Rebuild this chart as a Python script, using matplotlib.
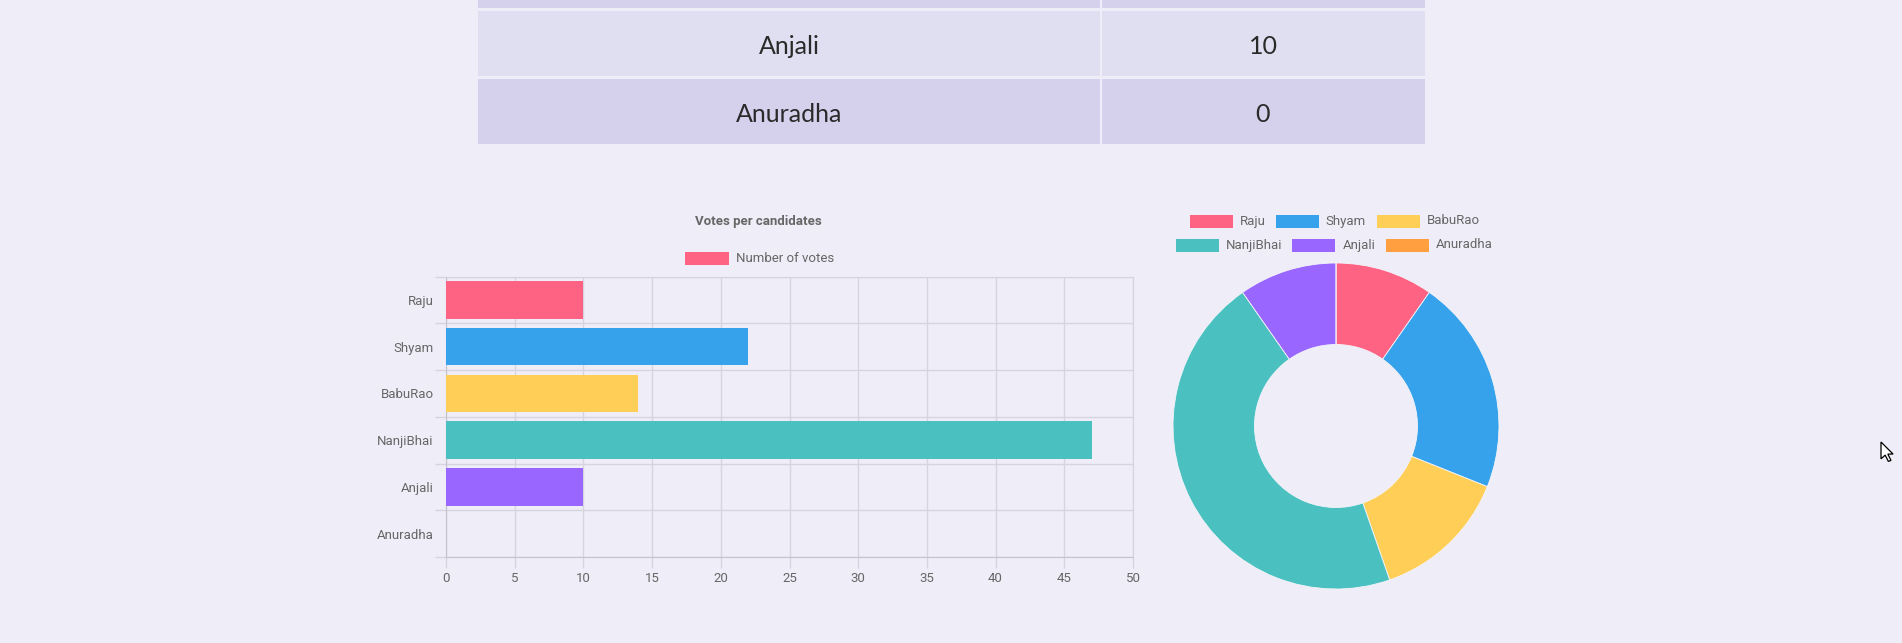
import matplotlib
matplotlib.use("Agg")
import matplotlib.pyplot as plt
from matplotlib.patches import Rectangle, Polygon
import matplotlib.font_manager as fm
from matplotlib.textpath import TextPath
import numpy as np

# ---------------- data ----------------
candidates = ["Raju", "Shyam", "BabuRao", "NanjiBhai", "Anjali", "Anuradha"]
votes = [10, 22, 14, 47, 10, 0]
colors = ["#ff6384", "#36a2eb", "#ffce56", "#4bc0c0", "#9966ff", "#ff9f40"]
table_names = ["NanjiBhai", "Anjali", "Anuradha"]
table_votes = [47, 10, 0]
x_ticks = list(range(0, 55, 5))
chart_title = "Votes per candidates"
dataset_label = "Number of votes"

W, H = 1902, 643
BG = "#efeef8"
GRID = "#d6d5df"
TXT = "#666666"
FONT = ["Roboto", "DejaVu Sans"]
FS = 9.5

fig = plt.figure(figsize=(W / 100, H / 100), dpi=100, facecolor=BG)

# overlay axes in pixel coordinates for page layout elements
bg = fig.add_axes([0, 0, 1, 1], zorder=0)
bg.set_xlim(0, W)
bg.set_ylim(H, 0)
bg.axis("off")
bg.patch.set_alpha(0)

# ---------------- table (partially scrolled off) ----------------
t_left, t_mid, t_right = 478, 1101, 1425
row_tops = [-57, 11, 79]
row_h = 65
row_cols = ["#d5d1ec", "#e0dff1", "#d5d1ec"]
for top, name, v, rc in zip(row_tops, table_names, table_votes, row_cols):
    bg.add_patch(Rectangle((t_left, top), t_mid - t_left - 1, row_h, facecolor=rc, edgecolor="none"))
    bg.add_patch(Rectangle((t_mid + 1, top), t_right - t_mid - 1, row_h, facecolor=rc, edgecolor="none"))
    cy = top + row_h / 2 + 2.5
    if cy < 0:
        continue  # row text scrolled off the page
    bg.text((t_left + t_mid) / 2, cy, name, ha="center", va="center", fontsize=18,
            family=["Lato", "DejaVu Sans"], color="#2a2a2a")
    bg.text((t_mid + t_right) / 2, cy, str(v), ha="center", va="center", fontsize=18,
            family=["Lato", "DejaVu Sans"], color="#2a2a2a")

# ---------------- bar chart ----------------
ax = fig.add_axes([446 / W, 1 - 557 / H, (1133 - 446) / W, (557 - 276.5) / H], zorder=1)
ax.set_facecolor("none")
ypos = np.arange(len(candidates))
ax.barh(ypos, votes, height=0.8, color=colors, zorder=3)
ax.set_xlim(0, 50)
ax.set_ylim(len(candidates) - 0.5, -0.5)
ax.set_xticks(x_ticks)
ax.set_xticklabels([str(t) for t in x_ticks], fontsize=FS, color=TXT, family=FONT)
ax.set_yticks(ypos)
ax.set_yticklabels(candidates, fontsize=FS, color=TXT, family=FONT)
ax.set_yticks(np.arange(-0.5, len(candidates)), minor=True)
ax.tick_params(axis="y", which="major", length=0, pad=9)
ax.tick_params(axis="y", which="minor", length=8, color=GRID, width=1)
ax.tick_params(axis="x", which="major", length=8, color=GRID, width=1, pad=3)
ax.grid(axis="x", which="major", color=GRID, linewidth=1, zorder=0)
ax.grid(axis="y", which="minor", color=GRID, linewidth=1, zorder=0)
ax.grid(axis="y", which="major", visible=False)
for s in ["top", "right"]:
    ax.spines[s].set_color(GRID)
for s in ["left", "bottom"]:
    ax.spines[s].set_color("#c4c3cc")

bg.text(758, 222, chart_title, ha="center", va="center", fontsize=FS, fontweight="bold",
        color=TXT, family=FONT)
bg.add_patch(Rectangle((685, 252), 44, 13, facecolor=colors[0], edgecolor="none"))
bg.text(736, 259, dataset_label, ha="left", va="center", fontsize=FS, color=TXT, family=FONT)

# ---------------- doughnut ----------------
cx, cy, r = 1336, 426, 163
axp = fig.add_axes([(cx - r) / W, 1 - (cy + r) / H, 2 * r / W, 2 * r / H], zorder=1)
axp.pie(votes, colors=colors, startangle=90, counterclock=False, radius=1,
        wedgeprops=dict(width=0.5, edgecolor="#f4f4fa", linewidth=0.6))
axp.set_xlim(-1, 1)
axp.set_ylim(-1, 1)
axp.set_aspect("auto")
axp.axis("off")

# legend rows (centered like Chart.js)
leg_rows = [[0, 1, 2], [3, 4, 5]]
leg_y = [221, 245]
box_w, box_h, gap_t, gap_item = 43, 13, 7, 12
fp = fm.FontProperties(family=FONT, size=FS)
def text_w(s):
    return TextPath((0, 0), s, prop=fp).get_extents().width * 100 / 72
for row, yy in zip(leg_rows, leg_y):
    widths = [box_w + gap_t + text_w(candidates[i]) for i in row]
    total = sum(widths) + gap_item * (len(row) - 1)
    x = cx - 2 - total / 2
    for i, wdt in zip(row, widths):
        bg.add_patch(Rectangle((x, yy - box_h / 2), box_w, box_h, facecolor=colors[i],
                               edgecolor="none"))
        bg.text(x + box_w + gap_t, yy, candidates[i], ha="left", va="center", fontsize=FS,
                color=TXT, family=FONT)
        x += wdt + gap_item

# mouse cursor from the screenshot
cur = np.array([(0, 0), (0, 16), (4, 12.5), (7, 18.5), (9.5, 17.5), (6.5, 11.5), (11.5, 11.5)]) * 1.05
cur += np.array([1881, 442])
bg.add_patch(Polygon(cur, closed=True, facecolor="white", edgecolor="black", linewidth=0.9, zorder=5))

fig.savefig("out.png", dpi=100, facecolor=BG)
